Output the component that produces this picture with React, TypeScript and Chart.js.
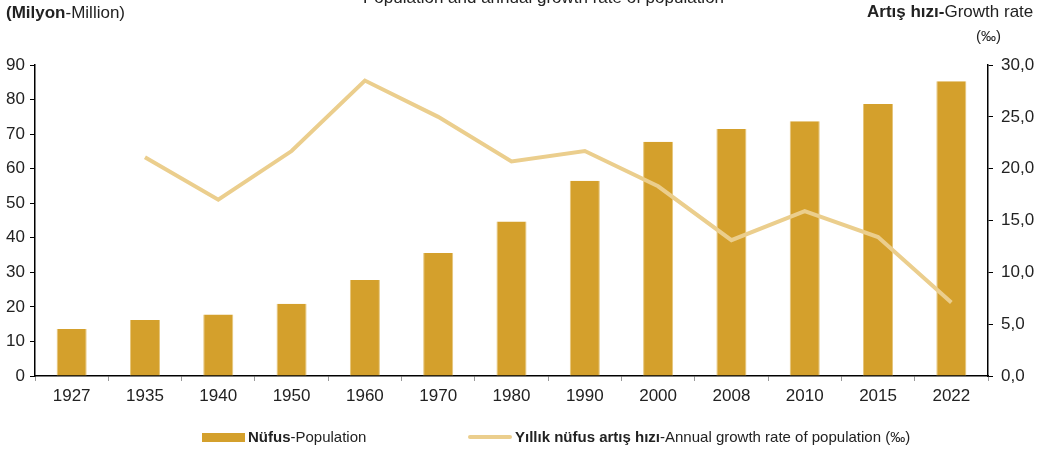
import React, { useEffect, useRef } from "react";
import { Chart, registerables } from "chart.js";

Chart.register(...registerables);

const years = ["1927", "1935", "1940", "1950", "1960", "1970", "1980", "1990", "2000", "2008", "2010", "2015", "2022"];
const population = [13.6, 16.2, 17.8, 20.9, 27.8, 35.6, 44.7, 56.5, 67.8, 71.5, 73.7, 78.7, 85.3];
const growthRate = [null, 21.1, 17.0, 21.7, 28.5, 25.0, 20.7, 21.7, 18.3, 13.1, 15.9, 13.4, 7.1];

const BAR_COLOR = "#D4A02C";
const LINE_COLOR = "#EBCE8D";
const FONT = "'Liberation Sans', Arial, sans-serif";

export default function App() {
  const ref = useRef<HTMLCanvasElement>(null);

  useEffect(() => {
    document.body.style.margin = "0";
    const ctx = ref.current!.getContext("2d")!;
    const chart = new Chart(ctx, {
      data: {
        labels: years,
        datasets: [
          {
            type: "line",
            label: "growth",
            data: growthRate as any,
            yAxisID: "y2",
            borderColor: LINE_COLOR,
            borderWidth: 4,
            pointRadius: 0,
            tension: 0,
            order: 0,
          },
          {
            type: "bar",
            label: "pop",
            data: population,
            yAxisID: "y",
            backgroundColor: BAR_COLOR,
            borderColor: "#E6C57A",
            borderWidth: { left: 1, right: 1, top: 0, bottom: 0 } as any,
            barPercentage: 0.41,
            categoryPercentage: 1,
            order: 1,
          },
        ],
      },
      options: {
        responsive: false,
        animation: false,
        layout: { padding: { left: 0, top: 65, right: 0, bottom: 0 } },
        plugins: { legend: { display: false }, tooltip: { enabled: false } },
        scales: {
          x: {
            offset: true,
            grid: { drawOnChartArea: false, drawTicks: true, tickLength: 5, color: "#999", offset: true },
            border: { display: true, color: "#000", width: 1.5 },
            ticks: { color: "#222", font: { family: FONT, size: 17 }, padding: 5, maxRotation: 0 },
            afterFit: (s: any) => { s.height = 76; },
          },
          y: {
            position: "left",
            min: 0,
            max: 90,
            ticks: { stepSize: 10, color: "#222", font: { family: FONT, size: 17 }, padding: 5 },
            grid: { drawOnChartArea: false, drawTicks: true, tickLength: 5, color: "#000" },
            border: { display: true, color: "#000", width: 1.5 },
            afterFit: (s: any) => { s.width = 35; },
          },
          y2: {
            position: "right",
            min: 0,
            max: 30,
            ticks: {
              stepSize: 5,
              color: "#222",
              font: { family: FONT, size: 17 },
              padding: 8,
              callback: (v: any) => Number(v).toFixed(1).replace(".", ","),
            },
            grid: { drawOnChartArea: false, drawTicks: true, tickLength: 5, color: "#000" },
            border: { display: true, color: "#000", width: 1.5 },
            afterFit: (s: any) => { s.width = 54; },
          },
        },
      },
    });
    return () => chart.destroy();
  }, []);

  const txt: React.CSSProperties = { position: "absolute", fontFamily: FONT, color: "#222", whiteSpace: "nowrap", lineHeight: 1 };

  return (
    <div style={{ position: "relative", width: 1042, height: 452, overflow: "hidden", background: "#fff" }}>
      <canvas ref={ref} width={1042} height={452} style={{ position: "absolute", left: 0, top: 0 }} />
      <div style={{ ...txt, left: 363, top: -11, fontSize: 17 }}>
        Population and annual growth rate of population
      </div>
      <div style={{ ...txt, left: 6, top: 4, fontSize: 17 }}>
        <b>(Milyon</b>-Million)
      </div>
      <div style={{ ...txt, left: 867, top: 3, fontSize: 17 }}>
        <b>Artış hızı-</b>Growth rate
      </div>
      <div style={{ ...txt, left: 976, top: 28, fontSize: 15 }}>(‰)</div>
      <div style={{ position: "absolute", left: 202, top: 433, width: 43, height: 9, background: BAR_COLOR }} />
      <div style={{ ...txt, left: 248, top: 429, fontSize: 15 }}>
        <b>Nüfus</b>-Population
      </div>
      <div style={{ position: "absolute", left: 468, top: 435, width: 44, height: 4, borderRadius: 2, background: LINE_COLOR }} />
      <div style={{ ...txt, left: 515, top: 429, fontSize: 15 }}>
        <b>Yıllık nüfus artış hızı</b>-Annual growth rate of population (‰)
      </div>
    </div>
  );
}
